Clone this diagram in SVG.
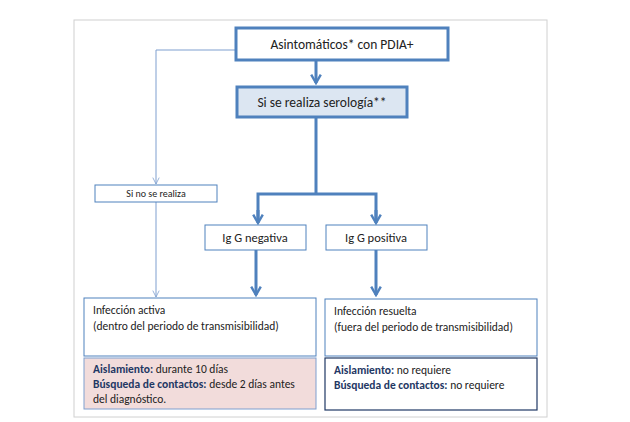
<svg xmlns="http://www.w3.org/2000/svg" width="630" height="422" viewBox="0 0 630 422">
<defs>
<style>
text{font-family:Calibri,"Liberation Sans",sans-serif;fill:#222}
.b{fill:#fff;stroke:#4f81bd}
.t{font-size:11.5px}
.k{font-weight:bold;fill:#1f3864}
</style>
<marker id="ab" viewBox="0 0 10 10" refX="8" refY="5" markerWidth="4" markerHeight="4" orient="auto"><path d="M1,1 L8,5 L1,9" fill="none" stroke="#4f81bd" stroke-width="2"/></marker>
<marker id="as" viewBox="0 0 10 10" refX="9" refY="5" markerWidth="8" markerHeight="8" orient="auto"><path d="M1,1 L9,5 L1,9" fill="none" stroke="#7f9fcf" stroke-width="1"/></marker>
</defs>
<rect x="74" y="20" width="473" height="397" fill="#fff" stroke="#d0d0d0"/>
<g id="connectors" fill="none">
<path d="M316,60 V83" stroke="#4f81bd" stroke-width="3" marker-end="url(#ab)"/>
<path d="M316,117 V194 H258 V222 M316,194 H376 V222" stroke="#4f81bd" stroke-width="3"/>
<path d="M258,210 V223" stroke="#4f81bd" stroke-width="3" marker-end="url(#ab)"/>
<path d="M376,210 V223" stroke="#4f81bd" stroke-width="3" marker-end="url(#ab)"/>
<path d="M256,250 V295" stroke="#4f81bd" stroke-width="3" marker-end="url(#ab)"/>
<path d="M376,250 V295" stroke="#4f81bd" stroke-width="3" marker-end="url(#ab)"/>
<path d="M236,50 H156 V184" stroke="#7f9fcf" marker-end="url(#as)"/>
<path d="M156,201 V297" stroke="#7f9fcf" marker-end="url(#as)"/>
</g>
<g id="n1"><rect class="b" x="236" y="28" width="212" height="32" stroke-width="3"/><text x="342" y="49" text-anchor="middle" font-size="13.5">Asintomáticos* con PDIA+</text></g>
<g id="n2"><rect x="237" y="87" width="170" height="30" fill="#dce6f2" stroke="#4f81bd" stroke-width="3"/><text x="322" y="107" text-anchor="middle" font-size="13.5">Si se realiza serología**</text></g>
<g id="n3"><rect class="b" x="95" y="185" width="122" height="17"/><text x="156" y="197" text-anchor="middle" font-size="10">Si no se realiza</text></g>
<g id="n4"><rect class="b" x="205" y="225" width="101" height="25"/><text x="255" y="242" text-anchor="middle" font-size="12.5">Ig G negativa</text></g>
<g id="n5"><rect class="b" x="326" y="225" width="101" height="25"/><text x="376" y="242" text-anchor="middle" font-size="12.5">Ig G positiva</text></g>
<g id="n6"><rect class="b" x="84" y="298" width="232" height="58"/><text class="t" x="93" y="314">Infección activa</text><text class="t" x="93" y="330">(dentro del periodo de transmisibilidad)</text></g>
<g id="n7"><rect x="84" y="358" width="232" height="51" fill="#f2dcdb" stroke="#7f9fcf"/><text class="t" x="93" y="373"><tspan class="k">Aislamiento:</tspan> durante 10 días</text><text class="t" x="93" y="388"><tspan class="k">Búsqueda de contactos:</tspan> desde 2 días antes</text><text class="t" x="93" y="403">del diagnóstico.</text></g>
<g id="n8"><rect class="b" x="325" y="299" width="212" height="57"/><text class="t" x="334" y="315">Infección resuelta</text><text class="t" x="334" y="331">(fuera del periodo de transmisibilidad)</text></g>
<g id="n9"><rect x="325" y="358" width="212" height="52" fill="#fff" stroke="#1f3864" stroke-width="1.2"/><text class="t" x="334" y="374"><tspan class="k">Aislamiento:</tspan> no requiere</text><text class="t" x="334" y="389"><tspan class="k">Búsqueda de contactos:</tspan> no requiere</text></g>
</svg>
